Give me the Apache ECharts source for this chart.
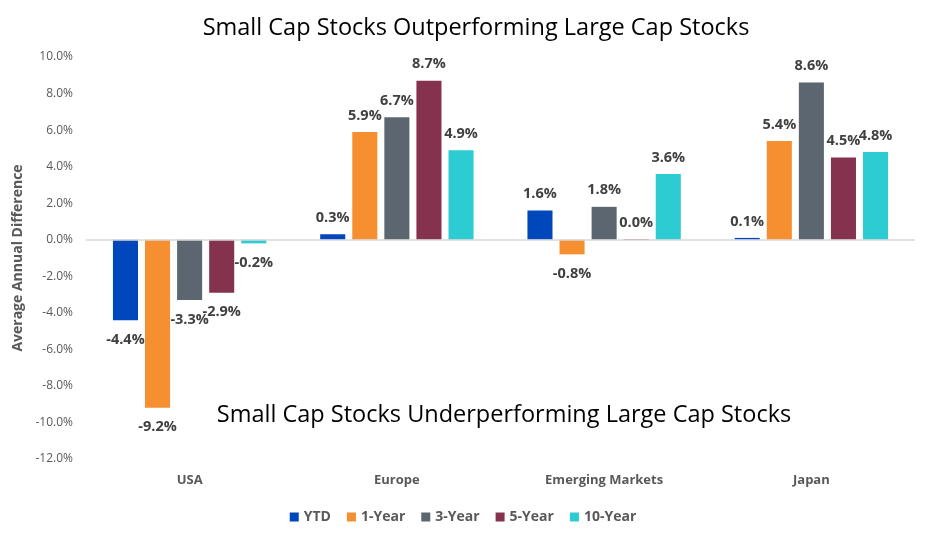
<!DOCTYPE html>
<html><head><meta charset="utf-8">
<script src="https://cdn.jsdelivr.net/npm/echarts@6/dist/echarts.min.js"></script>
<style>html,body{margin:0;padding:0;background:#fff;}#c{width:926px;height:546px;}</style>
</head><body><div id="c"></div>
<script>
const categories = ['USA', 'Europe', 'Emerging Markets', 'Japan'];
const seriesNames = ['YTD', '1-Year', '3-Year', '5-Year', '10-Year'];
const ytd = [-4.4, 0.3, 1.6, 0.1];
const oneYear = [-9.2, 5.9, -0.8, 5.4];
const threeYear = [-3.3, 6.7, 1.8, 8.6];
const fiveYear = [-2.9, 8.7, 0.04, 4.5];
const tenYear = [-0.2, 4.9, 3.6, 4.8];
const colors = ['#0047BB', '#F58F2F', '#5B6670', '#85324E', '#2DCCD3'];
const allValues = [ytd, oneYear, threeYear, fiveYear, tenYear];

const font = 'Open Sans, Liberation Sans, sans-serif';
const chart = echarts.init(document.getElementById('c'));
chart.setOption({
  animation: false,
  title: {
    text: 'Small Cap Stocks Outperforming Large Cap Stocks',
    left: 471, top: 11, textAlign: 'center',
    textStyle: { fontFamily: font, fontSize: 23.5, fontWeight: 'normal', color: '#000' }
  },
  graphic: [{
    type: 'text', x: 504, y: 415,
    style: { text: 'Small Cap Stocks Underperforming Large Cap Stocks', fontFamily: font, fontSize: 23.5, fill: '#000', align: 'center', verticalAlign: 'middle' }
  }],
  legend: {
    bottom: 17, left: 'center', itemWidth: 9, itemHeight: 9, itemGap: 16,
    icon: 'rect',
    textStyle: { fontFamily: font, fontSize: 14, fontWeight: 'bold', color: '#595959' },
    data: seriesNames
  },
  grid: { left: 86, right: 11, top: 57, bottom: 87 },
  xAxis: {
    type: 'category', data: categories,
    axisLine: { show: false }, axisTick: { show: false },
    axisLabel: { fontFamily: font, fontSize: 13, fontWeight: 'bold', color: '#595959', margin: 15 }
  },
  yAxis: {
    type: 'value', min: -12, max: 10, interval: 2,
    name: 'Average Annual Difference', nameLocation: 'middle', nameGap: 58, nameRotate: 90,
    nameTextStyle: { fontFamily: font, fontSize: 14, fontWeight: 'bold', color: '#595959' },
    axisLine: { show: false }, axisTick: { show: false },
    splitLine: { show: false },
    axisLabel: { fontFamily: font, fontSize: 12, color: '#595959', margin: 13, formatter: v => v.toFixed(1) + '%' }
  },
  series: seriesNames.map((n, i) => ({
    name: n, type: 'bar', barGap: '28%', barCategoryGap: '26%',
    itemStyle: { color: colors[i] },
    markLine: i === 0 ? { silent: true, symbol: 'none', label: { show: false },
      lineStyle: { color: '#D9D9D9', type: 'solid', width: 1.5 }, data: [{ yAxis: 0 }] } : undefined,
    data: allValues[i].map(v => ({
      value: v,
      label: { show: true, position: v >= 0 ? 'top' : 'bottom', distance: v >= 0 ? 9 : 12,
        fontFamily: font, fontSize: 14.5, fontWeight: 'bold', color: '#404040',
        formatter: p => p.value.toFixed(1) + '%' }
    }))
  }))
});
</script></body></html>
